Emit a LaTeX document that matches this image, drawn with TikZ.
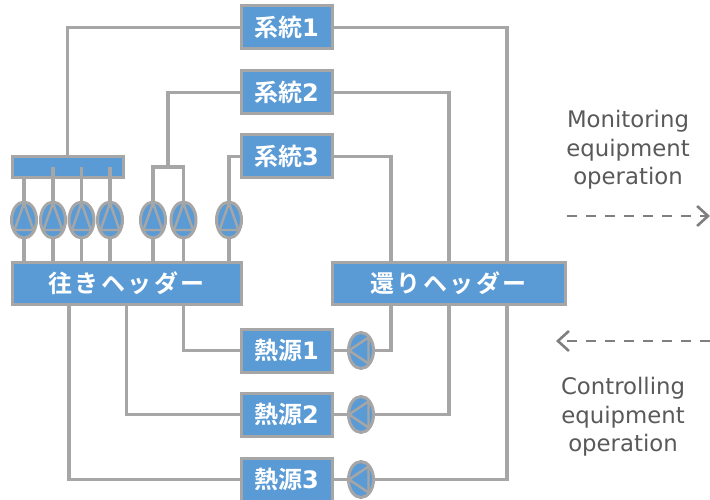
\documentclass[tikz,border=0pt]{standalone}
\usepackage{fontspec}
\setmainfont{DejaVu Sans}
\newfontfamily\jpfont[BoldFont={Noto Sans CJK JP Bold}]{Noto Sans CJK JP}
\newfontfamily\jpwide[LetterSpace=10]{Noto Sans CJK JP Bold}
\usetikzlibrary{shapes.geometric,arrows.meta}
\definecolor{pipegray}{HTML}{A6A6A6}
\definecolor{boxblue}{HTML}{5B9BD5}
\definecolor{notegray}{HTML}{7F7F7F}
\tikzset{
  pipe/.style={draw=pipegray,line width=3.6pt},
  unitbox/.style={draw=pipegray,line width=3pt,fill=boxblue,text=white,outer sep=0pt,inner sep=0pt,
    minimum width=91pt,minimum height=43pt,font=\fontsize{24}{26}\selectfont},
  headbox/.style={unitbox,minimum height=42pt},
  pumpup/.style={ellipse,draw=pipegray,line width=3pt,fill=boxblue,outer sep=0pt,inner sep=0pt,
    minimum width=25pt,minimum height=36pt,
    path picture={\draw[pipegray,line width=2.4pt,shift={(path picture bounding box.center)}]
      (0pt,17pt) -- (-9.5pt,-10pt) -- (9.5pt,-10pt) -- cycle;}},
  pumpleft/.style={ellipse,draw=pipegray,line width=3pt,fill=boxblue,outer sep=0pt,inner sep=0pt,
    minimum width=25pt,minimum height=36pt,
    path picture={\draw[pipegray,line width=2.4pt,shift={(path picture bounding box.center)}]
      (-12pt,0pt) -- (7.5pt,13pt) -- (7.5pt,-13pt) -- cycle;}},
  note/.style={align=center,text=black!65,font=\fontsize{22.8}{28.5}\selectfont},
  signal/.style={draw=notegray,line width=2.6pt,dash pattern=on 10pt off 9pt},
}
\newcommand{\unitname}[2]{{\jpfont\bfseries #1}{\bfseries #2}}
\begin{document}
\begin{tikzpicture}
  \useasboundingbox (0pt,0pt) rectangle (710pt,-500pt);

  % systems
  \node (sysa) at (286.5pt,-27.5pt) [unitbox]{\unitname{系統}{1}};
  \node (sysb) at (286.5pt,-92.5pt) [unitbox]{\unitname{系統}{2}};
  \node (sysc) at (286.5pt,-156.5pt) [unitbox]{\unitname{系統}{3}};

  % heat sources
  \node (heata) at (286.5pt,-350.5pt) [unitbox]{\unitname{熱源}{1}};
  \node (heatb) at (286.5pt,-414.5pt) [unitbox]{\unitname{熱源}{2}};
  \node (heatc) at (286.5pt,-479.5pt) [unitbox]{\unitname{熱源}{3}};

  % headers
  \node (gohead) at (126.5pt,-283pt) [headbox,minimum width=229pt]{\jpwide 往きヘッダー};
  \node (rethead) at (448.5pt,-283pt) [headbox,minimum width=233pt]{\jpwide 還りヘッダー};
  \node (bar) at (67.5pt,-167.5pt) [unitbox,minimum width=111pt,minimum height=21pt]{};

  % pumps
  \node (pa) at (24pt,-220pt) [pumpup]{};
  \node (pb) at (53pt,-220pt) [pumpup]{};
  \node (pc) at (81.5pt,-220pt) [pumpup]{};
  \node (pd) at (110pt,-220pt) [pumpup]{};
  \node (pe) at (153pt,-220pt) [pumpup]{};
  \node (pf) at (183.5pt,-220pt) [pumpup]{};
  \node (pg) at (229pt,-220pt) [pumpup]{};
  \node (pumpa) at (361pt,-350.5pt) [pumpleft]{};
  \node (pumpb) at (361pt,-414.5pt) [pumpleft]{};
  \node (pumpc) at (361pt,-479.5pt) [pumpleft]{};

  % points on the headers and the tee
  \coordinate (tee) at (168pt,-167pt);
  \coordinate (goa) at (69pt,-304pt);
  \coordinate (gob) at (126.5pt,-304pt);
  \coordinate (goc) at (183.5pt,-304pt);
  \coordinate (reta) at (391pt,-262pt);
  \coordinate (retb) at (449pt,-262pt);
  \coordinate (retc) at (507pt,-262pt);

  \draw[pipe] (sysa.west) -| (bar.north);
  \draw[pipe] (sysa.east) -| (retc);
  \draw[pipe] (sysb.west) -| (tee);
  \draw[pipe] (sysb.east) -| (retb);
  \draw[pipe] (sysc.west) -| (pg.north);
  \draw[pipe] (sysc.east) -| (reta);
  \draw[pipe] (pe.north) |- (tee) -| (pf.north);

  \draw[pipe] (pa.north) -- (pa.north |- bar.south);
  \draw[pipe] (pb.north) -- (pb.north |- bar.center);
  \draw[pipe] (pc.north) -- (pc.north |- bar.center);
  \draw[pipe] (pd.north) -- (pd.north |- bar.center);

  \draw[pipe] (pa.south) -- (pa.south |- gohead.north);
  \draw[pipe] (pb.south) -- (pb.south |- gohead.north);
  \draw[pipe] (pc.south) -- (pc.south |- gohead.north);
  \draw[pipe] (pd.south) -- (pd.south |- gohead.north);
  \draw[pipe] (pe.south) -- (pe.south |- gohead.north);
  \draw[pipe] (pf.south) -- (pf.south |- gohead.north);
  \draw[pipe] (pg.south) -- (pg.south |- gohead.north);

  \draw[pipe] (goa) |- (heatc.west);
  \draw[pipe] (gob) |- (heatb.west);
  \draw[pipe] (goc) |- (heata.west);

  \draw[pipe] (heata.east) -- (pumpa.west);
  \draw[pipe] (heatb.east) -- (pumpb.west);
  \draw[pipe] (heatc.east) -- (pumpc.west);

  \draw[pipe] (pumpa.east) -| (reta |- rethead.south);
  \draw[pipe] (pumpb.east) -| (retb |- rethead.south);
  \draw[pipe] (pumpc.east) -| (retc |- rethead.south);

  % monitoring and control
  \node (monitor) at (628pt,-150pt) [note]{Monitoring\\equipment\\operation};
  \node (control) at (623pt,-417pt) [note]{Controlling\\equipment\\operation};
  \coordinate (mona) at (567pt,-216pt);
  \coordinate (monb) at (710pt,-216pt);
  \coordinate (cona) at (710pt,-341pt);
  \coordinate (conb) at (556pt,-341pt);
  \draw[signal,-{Straight Barb[length=11pt,width=20pt]}] (mona) -- (monb);
  \draw[signal,-{Straight Barb[length=11pt,width=20pt]}] (cona) -- (conb);
\end{tikzpicture}
\end{document}
